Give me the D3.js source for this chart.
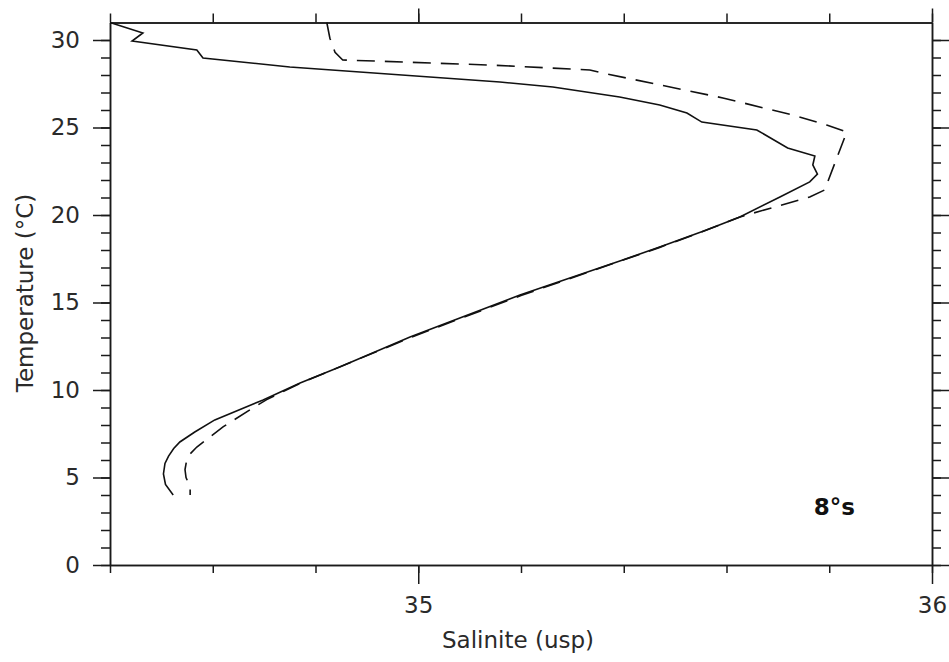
<!DOCTYPE html>
<html>
<head>
<meta charset="utf-8">
<script src="https://cdn.jsdelivr.net/npm/d3@7"></script>
<style>
    body { margin: 0; background: #fff; }
    text { font-family: "DejaVu Sans", sans-serif; fill: #2a2a2a; }
    .axis path, .axis line { stroke: #1a1a1a; stroke-width: 1.5; }
    .curve { fill: none; stroke: #111; stroke-width: 1.6; }
</style>
</head>
<body>
<div id="chart"></div>
<script>
// ---- size
const w = 949;
const h = 662;

// ---- padding (plot frame)
const pLeft = 110;
const pRight = 17;
const pTop = 22.5;
const pBottom = 97;

// ---- data: solid profile (salinity, temperature)
const salSolid = [34.400, 34.464, 34.443, 34.569, 34.581, 34.750, 35.159, 35.262,
    35.392, 35.470, 35.523, 35.552, 35.659, 35.719, 35.772, 35.768, 35.777, 35.762,
    35.704, 35.626, 35.561, 35.470, 35.398, 35.198, 34.984, 34.847, 34.770, 34.698,
    34.604, 34.565, 34.536, 34.524, 34.514, 34.507, 34.504, 34.508, 34.523];
const tempSolid = [31.0, 30.40, 29.94, 29.43, 28.97, 28.46, 27.60, 27.31,
    26.74, 26.29, 25.83, 25.31, 24.86, 23.83, 23.37, 22.86, 22.34, 21.89,
    21.03, 19.89, 19.14, 18.17, 17.43, 15.43, 13.03, 11.31, 10.40, 9.43,
    8.29, 7.60, 7.03, 6.66, 6.22, 5.80, 5.20, 4.60, 4.00];

// ---- data: dashed profile
const salDashed = [34.822, 34.828, 34.838, 34.853, 35.139, 35.334, 35.359, 35.593,
    35.729, 35.795, 35.834, 35.791, 35.762, 35.626, 35.561, 35.470, 35.200, 34.985,
    34.770, 34.705, 34.678, 34.620, 34.569, 34.556, 34.549, 34.546, 34.548, 34.556, 34.556];
const tempDashed = [31.0, 30.10, 29.30, 28.86, 28.57, 28.29, 28.11, 26.69,
    25.71, 25.14, 24.74, 21.43, 21.03, 19.89, 19.14, 18.15, 15.40, 13.00,
    10.38, 9.45, 8.97, 7.89, 6.74, 6.35, 5.95, 5.45, 5.00, 4.46, 4.00];

// ---- ticks
const xMajor = [35, 36];
const xMinor = d3.range(0, 9).map((i) => +(34.4 + i * 0.2).toFixed(1));
const yMajor = [0, 5, 10, 15, 20, 25, 30];
const yMinor = d3.range(0, 31);

const stationLabel = "8°s";

// SCALES
const xScale = d3.scaleLinear().domain([34.4, 36]).range([pLeft, w - pRight]);
const yScale = d3.scaleLinear().domain([0, 31]).range([h - pBottom, pTop]);

const svg = d3.select("#chart").append("svg").attr("width", w).attr("height", h);

// AXES
const addAxis = (axis, transform) =>
    svg.append("g").attr("class", "axis").attr("transform", transform).call(axis);

// left
addAxis(d3.axisLeft(yScale).tickValues(yMinor).tickSize(9).tickSizeOuter(0).tickFormat(""),
    `translate(${pLeft},0)`);
addAxis(d3.axisLeft(yScale).tickValues(yMajor).tickSize(17).tickSizeOuter(0).tickPadding(13),
    `translate(${pLeft},0)`);
// right
addAxis(d3.axisRight(yScale).tickValues(yMinor).tickSize(9).tickSizeOuter(0).tickFormat(""),
    `translate(${w - pRight},0)`);
addAxis(d3.axisRight(yScale).tickValues(yMajor).tickSize(17).tickSizeOuter(0).tickFormat(""),
    `translate(${w - pRight},0)`);
// top
addAxis(d3.axisTop(xScale).tickValues(xMinor).tickSize(9).tickSizeOuter(0).tickFormat(""),
    `translate(0,${pTop})`);
addAxis(d3.axisTop(xScale).tickValues(xMajor).tickSize(14).tickSizeOuter(0).tickFormat(""),
    `translate(0,${pTop})`);
// bottom
addAxis(d3.axisBottom(xScale).tickValues(xMinor).tickSize(8).tickSizeOuter(0).tickFormat(""),
    `translate(0,${h - pBottom})`);
addAxis(d3.axisBottom(xScale).tickValues(xMajor).tickSize(19).tickSizeOuter(0).tickPadding(13)
    .tickFormat(d3.format("d")), `translate(0,${h - pBottom})`);

svg.selectAll(".axis text").style("font-size", "23px").style("fill", "#2a2a2a");

// X-LABEL
svg.append("text")
    .attr("x", 518)
    .attr("y", 648)
    .attr("text-anchor", "middle")
    .style("font-size", "23px")
    .text("Salinite (usp)");

// Y-LABEL
svg.append("text")
    .attr("transform", "translate(33, 293) rotate(-90)")
    .attr("text-anchor", "middle")
    .style("font-size", "23px")
    .text("Temperature (°C)");

// STATION
svg.append("text")
    .attr("x", xScale(35.81))
    .attr("y", yScale(2.86))
    .attr("text-anchor", "middle")
    .style("font-size", "23px")
    .style("font-weight", "bold")
    .style("fill", "#111")
    .text(stationLabel);

// LINES
const line = d3.line()
    .x((d) => xScale(d[0]))
    .y((d) => yScale(d[1]));

svg.append("path")
    .attr("class", "curve")
    .attr("d", line(d3.zip(salSolid, tempSolid)));

svg.append("path")
    .attr("class", "curve")
    .attr("stroke-dasharray", "18,10")
    .attr("d", line(d3.zip(salDashed, tempDashed)));
</script>
</body>
</html>
